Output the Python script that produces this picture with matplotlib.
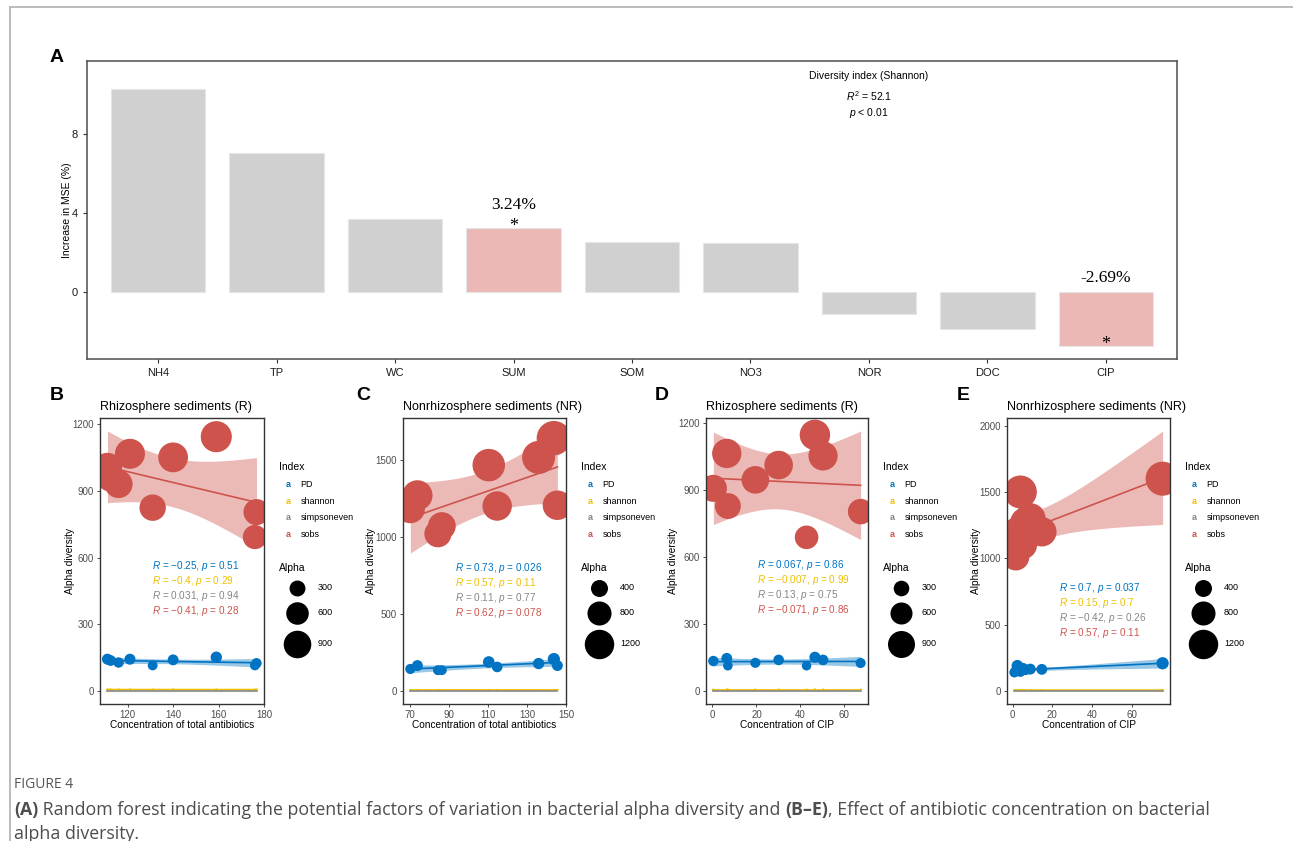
import numpy as np
import matplotlib.pyplot as plt

plt.rcParams['font.family'] = ['Liberation Sans', 'DejaVu Sans']
plt.rcParams['mathtext.fontset'] = 'custom'
plt.rcParams['mathtext.rm'] = 'Liberation Sans'
plt.rcParams['mathtext.it'] = 'Liberation Sans:italic'

# ---------------- panel A: random forest, increase in MSE
factors = ['NH4', 'TP', 'WC', 'SUM', 'SOM', 'NO3', 'NOR', 'DOC', 'CIP']
inc_mse = [10.25, 7.0, 3.72, 3.24, 2.53, 2.5, -1.08, -1.85, -2.69]
marked = ['SUM', 'CIP']
marked_text = ['3.24%', '-2.69%']

# ---------------- panels B-E: alpha diversity vs antibiotic concentration
indices = ['PD', 'shannon', 'simpsoneven', 'sobs']

b_conc = [111.1, 112.5, 116.0, 121.0, 131.0, 140.0, 159.0, 176.0, 176.7]
b_pd = [143, 137, 128, 143, 115, 140, 152, 115, 125]
b_shannon = [6.6, 6.5, 6.5, 6.6, 6.3, 6.5, 6.7, 6.2, 6.3]
b_simpson = [0.05, 0.05, 0.04, 0.05, 0.04, 0.05, 0.05, 0.04, 0.04]
b_sobs = [1005, 960, 930, 1066, 824, 1050, 1143, 692, 804]
b_r = ['\u22120.25', '\u22120.4', '0.031', '\u22120.41']
b_p = ['0.51', '0.29', '0.94', '0.28']

c_conc = [70.4, 74.0, 84.5, 86.5, 110.5, 114.8, 136.0, 143.8, 145.6]
c_pd = [143, 165, 135, 135, 188, 156, 178, 207, 165]
c_shannon = [6.6, 6.8, 6.7, 6.6, 6.9, 6.8, 6.9, 7.0, 6.8]
c_simpson = [0.05, 0.05, 0.05, 0.04, 0.05, 0.05, 0.05, 0.05, 0.05]
c_sobs = [1183, 1269, 1020, 1070, 1465, 1200, 1515, 1640, 1205]
c_r = ['0.73', '0.57', '0.11', '0.62']
c_p = ['0.026', '0.11', '0.77', '0.078']

d_conc = [0.4, 6.5, 7.0, 19.5, 30.1, 42.8, 46.6, 50.3, 67.4]
d_pd = [134, 146, 113, 126, 139, 113, 151, 139, 125]
d_shannon = [6.5, 6.6, 6.3, 6.4, 6.6, 6.2, 6.7, 6.5, 6.4]
d_simpson = [0.05, 0.05, 0.04, 0.05, 0.05, 0.04, 0.05, 0.05, 0.05]
d_sobs = [906, 1062, 827, 944, 1010, 687, 1145, 1051, 802]
d_r = ['0.067', '\u22120.007', '0.13', '\u22120.071']
d_p = ['0.86', '0.99', '0.75', '0.86']

e_conc = [0.9, 1.6, 2.4, 3.9, 5.2, 6.4, 8.9, 14.7, 75.5]
e_pd = [140, 150, 190, 145, 170, 160, 165, 163, 209]
e_shannon = [6.6, 6.7, 6.9, 6.6, 6.8, 6.7, 6.8, 6.8, 6.9]
e_simpson = [0.05, 0.05, 0.04, 0.05, 0.05, 0.05, 0.04, 0.05, 0.04]
e_sobs = [1060, 1010, 1200, 1500, 1100, 1270, 1300, 1200, 1600]
e_r = ['0.7', '0.15', '\u22120.42', '0.57']
e_p = ['0.037', '0.7', '0.26', '0.11']

jco = ['#0073C2', '#EFC000', '#868686', '#CD534C']

W, H = 1293, 841
fig = plt.figure(figsize=(W / 100, H / 100), dpi=100)


def box(l, t, r, b):
    return [l / W, 1 - b / H, (r - l) / W, (b - t) / H]


def ftext(x, y, s, **kw):
    return fig.text(x / W, 1 - y / H, s, **kw)


def lm_band(x, y, n=80):
    x = np.asarray(x, float)
    y = np.asarray(y, float)
    b1, b0 = np.polyfit(x, y, 1)
    xs = np.linspace(x.min(), x.max(), n)
    fit = b0 + b1 * xs
    resid = y - (b0 + b1 * x)
    s = np.sqrt(np.sum(resid ** 2) / (len(x) - 2))
    sxx = np.sum((x - x.mean()) ** 2)
    se = s * np.sqrt(1 / len(x) + (xs - x.mean()) ** 2 / sxx)
    t = 2.365  # t(0.975, df = 7)
    return xs, fit, fit - t * se, fit + t * se


def psize(v, k):
    return (0.72 * k) ** 2 * np.asarray(v, float)


# page frame lines
over = fig.add_axes([0, 0, 1, 1], zorder=-5)
over.set_xlim(0, W)
over.set_ylim(H, 0)
over.axis('off')
over.plot([10, W], [7, 7], color='#b5b5b5', lw=1.3)
over.plot([10, 10], [7, H], color='#b5b5b5', lw=1.3)

# ---------------- panel A
axA = fig.add_axes(box(87, 61, 1177, 359))
xpos = np.arange(1, len(factors) + 1)
cols = ['#EBB8B5' if f in marked else '#D0D0D0' for f in factors]
axA.bar(xpos, inc_mse, width=0.8, color=cols, edgecolor='#E6E6E6', linewidth=0.8)
axA.set_xlim(0.4, len(factors) + 0.6)
axA.set_ylim(-3.35, 11.65)
axA.set_xticks(xpos)
axA.set_xticklabels(factors)
axA.set_yticks([0, 4, 8])
axA.tick_params(labelsize=8, colors='#333333', length=3, width=0.8, labelcolor='#1a1a1a')
for sp in axA.spines.values():
    sp.set_color('#4d4d4d')
    sp.set_linewidth(1.1)

label_y = [4.4, 0.72]
star_y = [3.3, -2.6]
for name, txt, ly, sy in zip(marked, marked_text, label_y, star_y):
    i = factors.index(name) + 1
    axA.text(i, ly, txt, ha='center', va='center', fontsize=12.5,
             family='Liberation Serif')
    axA.text(i, sy, '*', ha='center', va='center', fontsize=13,
             family='Liberation Serif')

axA.text(7, 10.9, 'Diversity index (Shannon)', ha='center', va='center', fontsize=7.5)
axA.text(7, 9.9, r'$\it{R}^2$ = 52.1', ha='center', va='center', fontsize=7.5)
axA.text(7, 9.05, r'$\it{p}$ < 0.01', ha='center', va='center', fontsize=7.5)
ftext(67, 210, 'Increase in MSE (%)', rotation=90, ha='center', va='center', fontsize=7.5)
ftext(57, 57, 'A', fontsize=14, fontweight='bold', ha='center', va='center')

# ---------------- panels B-E
panels = [
    ('B', 'Rhizosphere sediments (R)', 'Concentration of total antibiotics', b_conc,
     [b_pd, b_shannon, b_simpson, b_sobs], b_r, b_p,
     [120, 140, 160, 180], [0, 300, 600, 900, 1200], [300, 600, 900],
     (100, 418, 264, 704), 0.92, (152, 566), 57, 70),
    ('C', 'Nonrhizosphere sediments (NR)', 'Concentration of total antibiotics', c_conc,
     [c_pd, c_shannon, c_simpson, c_sobs], c_r, c_p,
     [70, 90, 110, 130, 150], [0, 500, 1000, 1500], [400, 800, 1200],
     (403, 418, 566, 704), 0.85, (455, 568), 363, 371),
    ('D', 'Rhizosphere sediments (R)', 'Concentration of CIP', d_conc,
     [d_pd, d_shannon, d_simpson, d_sobs], d_r, d_p,
     [0, 20, 40, 60], [0, 300, 600, 900, 1200], [300, 600, 900],
     (706, 418, 868, 704), 0.9, (757, 565), 662, 673),
    ('E', 'Nonrhizosphere sediments (NR)', 'Concentration of CIP', e_conc,
     [e_pd, e_shannon, e_simpson, e_sobs], e_r, e_p,
     [0, 20, 40, 60], [0, 500, 1000, 1500, 2000], [400, 800, 1200],
     (1007, 418, 1170, 704), 0.85, (1059, 588), 963, 976),
]

for (letter, title, xlabel, conc, series, rvals, pvals, xticks, yticks, breaks,
     rect, k, ann, letter_x, ylab_x) in panels:
    l, t, r, b = rect
    ax = fig.add_axes(box(l, t, r, b))
    x = np.asarray(conc, float)
    ylo, yhi = [], []
    for vals, col in zip(series, jco):
        y = np.asarray(vals, float)
        xs, fit, lo, hi = lm_band(x, y)
        ax.scatter(x, y, s=psize(y, k), color=col, linewidths=0, zorder=2)
        ax.fill_between(xs, lo, hi, color=col, alpha=0.4, linewidth=0, zorder=3)
        ax.plot(xs, fit, color=col, lw=1.2, zorder=4)
        ylo.append(min(y.min(), lo.min()))
        yhi.append(max(y.max(), hi.max()))
    y0, y1 = min(ylo), max(yhi)
    ax.set_ylim(y0 - 0.05 * (y1 - y0), y1 + 0.05 * (y1 - y0))
    xp = 0.05 * (x.max() - x.min())
    ax.set_xlim(x.min() - xp, x.max() + xp)
    ax.set_xticks(xticks)
    ax.set_yticks(yticks)
    ax.tick_params(labelsize=7, colors='#4d4d4d', length=2.5, width=0.7,
                   labelcolor='#4d4d4d', pad=2)
    for sp in ax.spines.values():
        sp.set_color('#333333')
        sp.set_linewidth(1.0)

    ftext(letter_x, 395, letter, fontsize=14, fontweight='bold', ha='center', va='center')
    ftext(l, 407, title, fontsize=9, ha='left', va='center')
    ftext((l + r) / 2, 725, xlabel, fontsize=7.3, ha='center', va='center')
    ftext(ylab_x, 561, 'Alpha diversity', fontsize=7.3, rotation=90, ha='center', va='center')

    for i, (rv, pv) in enumerate(zip(rvals, pvals)):
        ftext(ann[0], ann[1] + 15 * i, r'$\it{R}$ = ' + rv + r', $\it{p}$ = ' + pv,
              fontsize=7.2, color=jco[i], ha='left', va='center')

    # legends
    ftext(r + 15, 467, 'Index', fontsize=7.5, ha='left', va='center')
    for i, name in enumerate(indices):
        yy = 485 + 16.4 * i
        ftext(r + 24, yy, 'a', fontsize=6.5, fontweight='bold', color=jco[i],
              ha='center', va='center')
        ftext(r + 36.5, yy, name, fontsize=6.5, ha='left', va='center')
    ftext(r + 15, 568, 'Alpha', fontsize=7.5, ha='left', va='center')
    for v, yy in zip(breaks, [587.5, 612.5, 643.5]):
        over.scatter([r + 33], [yy], s=psize(v, k), color='black', linewidths=0)
        ftext(r + 54, yy, str(v), fontsize=6.5, ha='left', va='center')

# ---------------- caption
ftext(14, 784, 'FIGURE 4', fontsize=10, color='#555555', family='Open Sans',
      ha='left', va='center')
cap_size = 12.8
pieces = [('(A)', 'bold'), (' Random forest indicating the potential factors of variation in '
          'bacterial alpha diversity and ', 'normal'), ('(B\u2013E)', 'bold'),
          (', Effect of antibiotic concentration on bacterial', 'normal')]
prev = None
for txt, wt in pieces:
    if prev is None:
        prev = ftext(14, 819, txt, fontsize=cap_size, color='#4d4d4d', family='Open Sans',
                     fontweight=wt, ha='left', va='bottom')
    else:
        prev = over.annotate(txt, xy=(1, 0), xycoords=prev, fontsize=cap_size,
                             color='#4d4d4d', family='Open Sans', fontweight=wt,
                             ha='left', va='bottom')
ftext(14, 834, 'alpha diversity.', fontsize=cap_size, color='#4d4d4d', family='Open Sans',
      ha='left', va='center')

fig.savefig('out.png', dpi=100)
